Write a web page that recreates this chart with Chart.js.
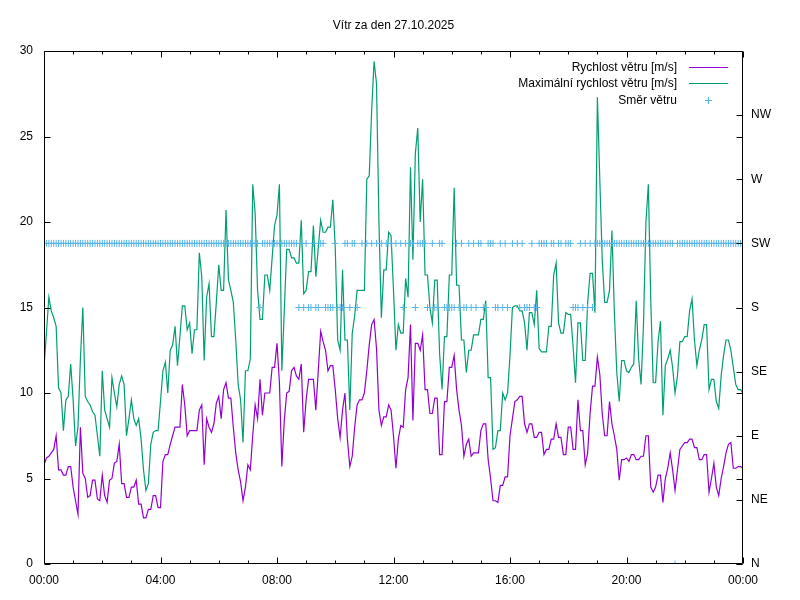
<!DOCTYPE html>
<html>
<head>
<meta charset="utf-8">
<title>Vítr za den 27.10.2025</title>
<style>
html, body { margin: 0; padding: 0; background: #fff; }
canvas { display: block; }
</style>
<script src="https://cdn.jsdelivr.net/npm/chart.js@4/dist/chart.umd.min.js"></script>
</head>
<body>
<canvas id="chart" width="800" height="600"></canvas>
<script>
const titleText = 'Vítr za den 27.10.2025';
const stepMinutes = 5;

// wind speed, one reading every 5 minutes from 00:00 to 24:00 [m/s]
const speed = [
  5.8, 6.2, 6.3, 6.5, 6.7, 7.5, 5.5, 5.5, 5.2, 5.2, 5.7, 5.7,
  4.5, 3.7, 2.9, 8.0, 5.3, 5.0, 3.9, 4.0, 4.9, 4.9, 3.8, 3.7,
  5.2, 4.0, 3.6, 4.9, 5.0, 5.9, 6.0, 7.0, 4.7, 4.7, 3.9, 3.9,
  4.5, 4.5, 4.9, 3.5, 3.5, 2.7, 2.7, 3.2, 3.2, 4.0, 4.0, 3.3,
  3.3, 6.0, 6.4, 6.4, 7.0, 7.5, 8.0, 8.0, 8.0, 10.5, 9.3, 7.5,
  7.8, 7.8, 7.8, 7.8, 9.0, 9.3, 5.8, 8.5, 8.0, 7.7, 8.2, 9.4,
  9.8, 8.5, 10.2, 10.6, 9.7, 9.7, 8.0, 6.5, 5.5, 4.8, 3.7, 4.5,
  5.8, 5.5, 7.5, 9.3, 8.5, 10.8, 8.7, 10.0, 10.0, 10.0, 11.5, 11.5,
  12.9, 10.6, 5.7, 8.4, 10.0, 10.1, 11.3, 11.5, 11.0, 10.8, 11.7, 7.7,
  9.6, 10.8, 10.8, 10.8, 9.0, 11.3, 13.6, 13.0, 12.5, 11.3, 11.6, 11.6,
  10.2, 8.5, 7.4, 9.0, 10.0, 7.3, 5.7, 6.3, 8.0, 9.3, 9.6, 9.6,
  10.0, 11.3, 12.8, 14.0, 14.3, 12.6, 9.0, 8.1, 8.6, 8.6, 9.3, 9.0,
  7.5, 5.6, 7.3, 8.1, 8.0, 10.2, 10.9, 14.0, 8.4, 12.9, 12.9, 12.5,
  13.4, 10.2, 10.2, 8.8, 8.8, 9.7, 9.7, 6.4, 6.4, 9.5, 9.5, 11.5,
  11.5, 12.2, 10.2, 9.0, 8.1, 6.3, 7.0, 7.3, 6.3, 6.5, 6.5, 6.5,
  7.8, 8.2, 8.2, 6.1, 5.0, 3.7, 3.7, 3.6, 4.6, 4.6, 5.1, 5.1,
  7.5, 8.5, 9.5, 9.6, 9.8, 9.8, 8.2, 7.7, 8.2, 8.2, 7.4, 7.4,
  7.7, 7.7, 6.4, 6.7, 6.7, 7.3, 7.3, 8.2, 7.4, 7.4, 6.4, 6.4,
  8.0, 8.0, 6.7, 6.7, 9.6, 7.8, 7.8, 5.8, 6.5, 8.8, 10.4, 10.4,
  12.1, 11.1, 8.8, 7.5, 7.5, 9.5, 8.2, 7.5, 6.7, 4.9, 6.1, 6.1,
  6.2, 6.0, 6.4, 6.4, 6.1, 6.1, 6.3, 6.3, 7.5, 7.5, 4.5, 4.2,
  4.5, 5.2, 5.2, 3.6, 5.0, 5.6, 6.5, 5.5, 4.3, 5.5, 6.7, 6.9,
  7.1, 7.1, 7.3, 7.3, 6.8, 6.8, 6.1, 6.1, 6.4, 6.4, 4.2, 5.0,
  5.9, 4.5, 4.0, 5.0, 5.7, 6.5, 7.0, 7.1, 5.6, 5.6, 5.7, 5.7,
  5.6
];

// gusts, same 5 minute readings [m/s]
const gust = [
  11.5, 13.5, 15.6, 14.8, 14.4, 13.9, 10.3, 10.0, 7.8, 9.6, 9.8, 11.7,
  9.6, 6.9, 8.0, 12.0, 15.0, 9.8, 9.5, 9.3, 8.9, 8.7, 7.5, 6.3,
  11.3, 9.0, 8.5, 8.0, 10.9, 10.0, 9.2, 10.5, 11.0, 10.5, 7.5, 8.5,
  9.6, 8.5, 8.1, 8.5, 7.3, 5.5, 4.3, 4.7, 7.0, 7.7, 7.8, 7.8,
  9.5, 11.3, 11.8, 10.0, 12.5, 12.8, 13.9, 11.6, 13.3, 15.1, 15.1, 13.7,
  14.1, 12.3, 13.7, 13.7, 18.2, 16.8, 11.9, 15.6, 16.4, 13.3, 13.3, 15.3,
  17.5, 16.0, 16.0, 20.7, 16.6, 16.0, 15.3, 13.1, 10.5, 9.6, 7.1, 11.3,
  11.3, 12.0, 22.2, 20.5, 16.0, 14.3, 14.3, 16.9, 16.9, 16.0, 17.9, 19.8,
  20.4, 22.2, 11.3, 14.8, 18.4, 18.4, 17.9, 17.9, 17.6, 17.6, 20.1, 15.8,
  16.0, 17.1, 17.1, 19.8, 16.8, 18.5, 20.1, 19.4, 19.4, 19.7, 19.7, 21.3,
  18.5, 13.1, 12.5, 17.2, 13.1, 13.1, 9.0, 13.5, 14.5, 16.0, 16.0, 16.0,
  16.0, 22.5, 22.7, 26.5, 29.4, 28.1, 20.0, 14.4, 17.2, 17.2, 19.4, 19.2,
  16.0, 12.5, 14.0, 13.5, 13.5, 16.7, 15.6, 23.2, 17.8, 24.0, 25.5, 20.0,
  22.5, 16.9, 16.9, 15.0, 14.1, 16.6, 16.6, 12.3, 10.2, 13.3, 13.3, 16.9,
  16.9, 22.0, 16.3, 16.3, 13.1, 13.1, 11.2, 12.5, 12.5, 13.4, 13.4, 13.4,
  14.3, 14.3, 15.4, 10.9, 10.9, 6.7, 6.8, 7.8, 7.8, 10.0, 9.6, 10.0,
  12.2, 15.0, 15.1, 15.1, 14.8, 14.8, 14.1, 12.5, 14.7, 14.7, 14.0, 16.0,
  12.6, 12.4, 12.4, 12.4, 13.9, 13.9, 16.9, 17.6, 14.1, 13.5, 13.5, 14.7,
  14.6, 14.6, 12.7, 10.6, 14.1, 14.1, 11.9, 11.9, 15.3, 17.0, 17.0, 14.7,
  27.3, 22.5, 17.8, 15.3, 15.3, 16.0, 19.5, 14.7, 11.2, 9.5, 11.9, 11.9,
  11.3, 11.2, 11.5, 11.7, 15.4, 12.0, 10.5, 14.0, 20.0, 22.2, 15.4, 10.6,
  10.6, 13.0, 14.2, 8.7, 11.6, 12.0, 12.5, 11.5, 10.0, 11.0, 13.0, 13.0,
  13.3, 13.3, 14.8, 15.5, 13.1, 11.6, 12.5, 13.1, 14.0, 14.0, 10.2, 10.8,
  10.8, 9.5, 9.1, 11.0, 12.2, 13.1, 13.1, 12.5, 11.5, 10.5, 10.2, 10.2,
  10.0
];

// wind direction, same 5 minute readings (null = no reading)
const direction = [
  'SW','SW','SW','SW','SW','SW','SW','SW','SW','SW','SW','SW',
  'SW','SW','SW','SW','SW','SW','SW','SW','SW','SW','SW','SW',
  'SW','SW','SW','SW','SW','SW','SW','SW','SW','SW','SW','SW',
  'SW','SW','SW','SW','SW','SW','SW','SW','SW','SW','SW','SW',
  'SW','SW','SW','SW','SW','SW','SW','SW','SW','SW','SW','SW',
  'SW','SW','SW','SW','SW','SW','SW','SW','SW','SW','SW','SW',
  'SW','SW','SW','SW','SW','SW','SW','SW','SW','SW','SW','SW',
  'SW','SW','SW','SW','SW','S','SW','SW','SW','SW','SW','SW',
  'SW','SW','SW','SW','SW','SW','SW','SW','SW','S','SW','S',
  'SW','S','S','SW','S','S','SW','SW','S','S','S','S',
  'SW','S','S','S','SW','SW','S','SW','SW','S',null,'SW',
  null,'SW',null,'SW',null,'SW',null,'SW',null,'SW',null,'SW',
  null,'SW',null,'SW','S','SW',null,'SW','SW','S','SW','SW',
  'SW','SW','S',null,'SW','S','S','SW','SW','S','S','S',
  'S','S','SW','S','SW','S','S','SW','S','SW','S','SW',
  'SW','S','S','SW','SW','SW','S','S','SW','S','SW','S',
  null,'SW',null,'SW','S','SW','S','S','S','SW','S','S',
  'SW','SW','SW','SW',null,'SW','SW',null,'SW','SW',null,'SW',
  'SW','SW','S','S','S','SW','S','SW','S','SW','S','SW',
  'SW','SW','SW','SW','SW','SW','SW','SW','SW','SW','SW','SW',
  'SW','SW','SW','SW','SW','SW','SW','SW','SW','SW','SW','SW',
  'SW','SW','SW','SW','SW','SW','SW','SW','N','SW','SW','SW',
  'SW','SW','SW','SW','SW','SW','SW','SW','SW','SW','SW','SW',
  'SW','SW','SW','SW','SW','SW','SW','SW','SW','SW','SW','SW',
  'SW'
];

const compass = ['N', 'NE', 'E', 'SE', 'S', 'SW', 'W', 'NW'];
const seriesLabels = ['Rychlost větru [m/s]', 'Maximální rychlost větru [m/s]', 'Směr větru'];
const colors = ['#9400d3', '#009e73', '#56b4e9'];

const FONT = '"Liberation Sans", Arial, sans-serif';
Chart.defaults.font.family = FONT;
Chart.defaults.font.size = 12;
Chart.defaults.color = '#000';

function hhmm(min) {
    const h = Math.floor(min / 60) % 24;
    const m = min % 60;
    return String(h).padStart(2, '0') + ':' + String(m).padStart(2, '0');
}

const speedPts = speed.map((v, i) => ({ x: i * stepMinutes, y: v }));
const gustPts = gust.map((v, i) => ({ x: i * stepMinutes, y: v }));
const dirPts = direction.map((d, i) => ({ x: i * stepMinutes, y: d === null ? null : compass.indexOf(d) * 45 }));

// border, inward ticks, title and gnuplot-like legend
const gnuFrame = {
    id: 'gnuFrame',
    afterDraw(chart) {
        const { ctx, chartArea: a, scales } = chart;
        const L = Math.round(a.left) + 0.5, R = Math.round(a.right) - 0.5;
        const T = Math.round(a.top) + 0.5, B = Math.round(a.bottom) - 0.5;
        ctx.save();
        ctx.strokeStyle = '#000';
        ctx.lineWidth = 1;
        ctx.beginPath();
        ctx.rect(L, T, R - L, B - T);

        for (let m = 0; m <= 1440; m += 60) {
            const x = Math.round(scales.x.getPixelForValue(m)) + 0.5;
            const len = m % 240 === 0 ? 6 : 3;
            ctx.moveTo(x, B); ctx.lineTo(x, B - len);
            ctx.moveTo(x, T); ctx.lineTo(x, T + len);
        }
        for (const t of scales.y.ticks) {
            const y = Math.round(scales.y.getPixelForValue(t.value)) + 0.5;
            ctx.moveTo(L, y); ctx.lineTo(L + 6, y);
            ctx.moveTo(R, y); ctx.lineTo(R - 6, y);
        }
        for (const t of scales.y2.ticks) {
            const y = Math.round(scales.y2.getPixelForValue(t.value)) + 0.5;
            ctx.moveTo(R, y); ctx.lineTo(R - 6, y);
        }
        ctx.stroke();

        ctx.font = '12px ' + FONT;
        ctx.fillStyle = '#000';
        ctx.textBaseline = 'middle';
        ctx.textAlign = 'center';
        ctx.fillText(titleText, (a.left + a.right) / 2, 26);

        seriesLabels.forEach((label, i) => {
            const y = Math.round(a.top + 15.5 + i * 16.5) + 0.5;
            ctx.textAlign = 'right';
            ctx.fillStyle = '#000';
            ctx.fillText(label, a.right - 66, y);
            ctx.strokeStyle = colors[i];
            ctx.lineWidth = 1.2;
            ctx.beginPath();
            if (i === 2) {
                const cx = Math.round(a.right - 35) + 0.5;
                ctx.moveTo(cx - 3.5, y); ctx.lineTo(cx + 3.5, y);
                ctx.moveTo(cx, y - 3.5); ctx.lineTo(cx, y + 3.5);
            } else {
                ctx.moveTo(a.right - 54, y); ctx.lineTo(a.right - 15, y);
            }
            ctx.stroke();
        });
        ctx.restore();
    }
};

new Chart(document.getElementById('chart'), {
    type: 'line',
    data: {
        datasets: [
            {
                label: seriesLabels[0],
                data: speedPts,
                borderColor: colors[0],
                backgroundColor: colors[0],
                borderWidth: 1.2,
                pointRadius: 0,
                tension: 0,
                yAxisID: 'y',
                order: 3
            },
            {
                label: seriesLabels[1],
                data: gustPts,
                borderColor: colors[1],
                backgroundColor: colors[1],
                borderWidth: 1.2,
                pointRadius: 0,
                tension: 0,
                yAxisID: 'y',
                order: 2
            },
            {
                label: seriesLabels[2],
                data: dirPts,
                showLine: false,
                borderColor: colors[2],
                backgroundColor: colors[2],
                pointStyle: 'cross',
                pointRadius: 3.5,
                pointBorderWidth: 1,
                yAxisID: 'y2',
                order: 1
            }
        ]
    },
    options: {
        responsive: false,
        animation: false,
        devicePixelRatio: 1,
        layout: { padding: { top: 51, left: 0, right: 0, bottom: 0 } },
        plugins: {
            legend: { display: false },
            tooltip: { enabled: false }
        },
        scales: {
            x: {
                type: 'linear',
                min: 0,
                max: 1440,
                grid: { display: false, drawTicks: false },
                border: { display: false },
                ticks: {
                    stepSize: 240,
                    padding: 9,
                    autoSkip: false,
                    maxRotation: 0,
                    callback: v => hhmm(v)
                },
                afterFit: s => { s.height = 36; }
            },
            y: {
                position: 'left',
                min: 0,
                max: 30,
                grid: { display: false, drawTicks: false },
                border: { display: false },
                ticks: { stepSize: 5, padding: 11 },
                afterFit: s => { s.width = 44; }
            },
            y2: {
                position: 'right',
                min: 0,
                max: 360,
                grid: { display: false, drawTicks: false },
                border: { display: false },
                ticks: {
                    stepSize: 45,
                    padding: 8,
                    callback: v => v >= 360 ? '' : compass[v / 45]
                },
                afterFit: s => { s.width = 57; }
            }
        }
    },
    plugins: [gnuFrame]
});
</script>
</body>
</html>
